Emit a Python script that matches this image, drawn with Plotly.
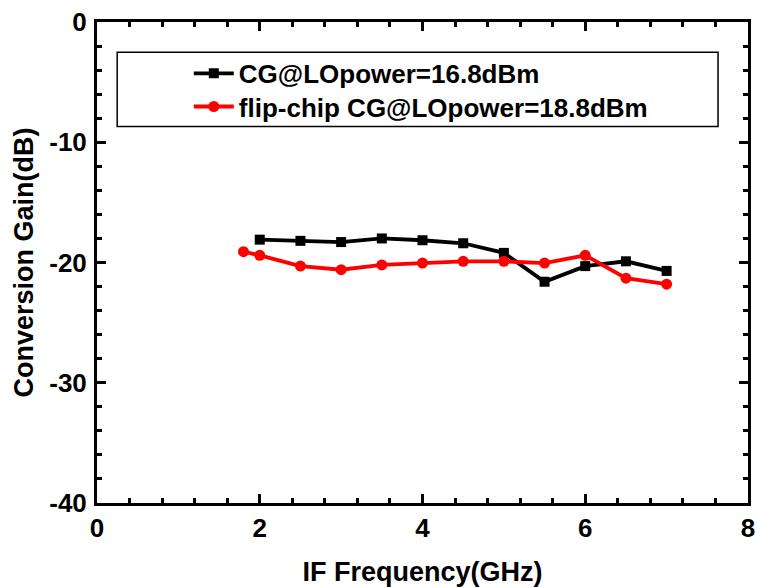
import plotly.graph_objects as go

# IF frequency sweep (GHz) and measured conversion gain (dB)
freq_cg = [2.0, 2.5, 3.0, 3.5, 4.0, 4.5, 5.0, 5.5, 6.0, 6.5, 7.0]
gain_cg = [-18.1, -18.2, -18.3, -18.0, -18.15, -18.4, -19.2, -21.6, -20.3, -19.9, -20.7]

freq_fc = [1.8, 2.0, 2.5, 3.0, 3.5, 4.0, 4.5, 5.0, 5.5, 6.0, 6.5, 7.0]
gain_fc = [-19.1, -19.4, -20.3, -20.6, -20.2, -20.05, -19.9, -19.9, -20.05, -19.4, -21.3, -21.8]

name_cg = "CG@LOpower=16.8dBm"
name_fc = "flip-chip CG@LOpower=18.8dBm"

x_ticks = [0, 2, 4, 6, 8]
y_ticks = [0, -10, -20, -30, -40]

FONT = "Liberation Sans, Arial, sans-serif"

fig = go.Figure()
fig.add_trace(go.Scatter(
    x=freq_cg, y=gain_cg, name=name_cg, mode="lines+markers",
    line=dict(color="black", width=3.8),
    marker=dict(symbol="square", size=10, color="black"),
    legend="legend",
))
fig.add_trace(go.Scatter(
    x=freq_fc, y=gain_fc, name=name_fc, mode="lines+markers",
    line=dict(color="#ff0000", width=3.8),
    marker=dict(symbol="circle", size=11, color="#ff0000"),
    legend="legend2",
))

axis_common = dict(
    showline=True, linecolor="black", linewidth=3, mirror="allticks",
    ticks="inside", ticklen=9, tickwidth=3, tickcolor="black",
    showgrid=False, zeroline=False, automargin=False,
    tickfont=dict(family=FONT, size=26, color="black", weight="bold"),
)

fig.update_xaxes(
    range=[0, 8], tickvals=x_ticks, ticktext=[str(v) for v in x_ticks],
    minor=dict(ticks="inside", ticklen=5, tickwidth=2.5, tickcolor="black", dtick=0.4, tick0=0),
    title=dict(text="<b>IF Frequency(GHz)</b>", font=dict(family=FONT, size=27, color="black"), standoff=22),
    ticklabelstandoff=0,
    **axis_common,
)
fig.update_yaxes(
    range=[-40, 0], tickvals=y_ticks, ticktext=[str(v) for v in y_ticks],
    minor=dict(ticks="inside", ticklen=5, tickwidth=2.5, tickcolor="black", dtick=2, tick0=0),
    title=dict(text="<b>Conversion Gain(dB)</b>", font=dict(family=FONT, size=27, color="black"), standoff=8),
    ticklabelstandoff=2,
    **axis_common,
)

# legend frame
fig.add_shape(type="rect", xref="paper", yref="paper",
              x0=0.031, x1=0.954, y0=0.783, y1=0.937,
              line=dict(color="black", width=1.5), fillcolor="rgba(0,0,0,0)")

legend_style = dict(
    xanchor="left", yanchor="top",
    bgcolor="rgba(0,0,0,0)", borderwidth=0,
    font=dict(family=FONT, size=26, color="black", weight="bold"),
    itemwidth=40,
)

fig.update_layout(
    width=757, height=587,
    margin=dict(l=97, r=9, t=22, b=84),
    paper_bgcolor="white", plot_bgcolor="white",
    showlegend=True,
    legend=dict(x=0.141, y=0.942, **legend_style),
    legend2=dict(x=0.141, y=0.873, **legend_style),
    font=dict(family=FONT, color="black"),
)

fig.write_html("out.html")
